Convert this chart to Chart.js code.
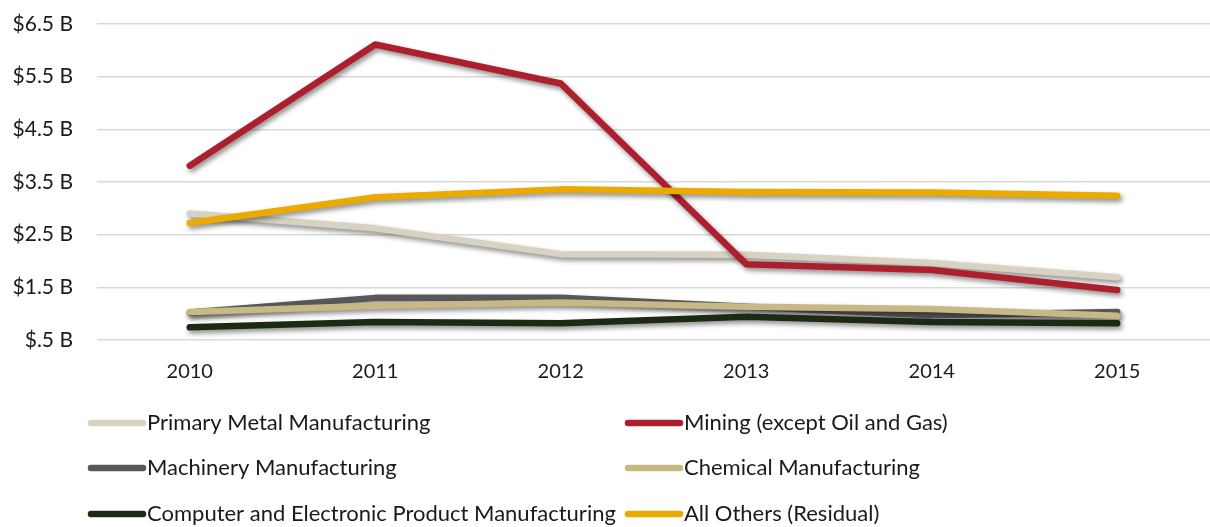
<!DOCTYPE html>
<html><head><meta charset="utf-8">
<script src="https://cdn.jsdelivr.net/npm/chart.js@4"></script>
<style>html,body{margin:0;padding:0;background:#fff;}#wrap{width:1210px;height:527px;}</style>
</head><body><div id="wrap"><canvas id="c" width="1210" height="527"></canvas></div>
<script>
const years = ['2010','2011','2012','2013','2014','2015'];
const seriesNames = ['Primary Metal Manufacturing','Mining (except Oil and Gas)','Machinery Manufacturing','Chemical Manufacturing','Computer and Electronic Product Manufacturing','All Others (Residual)'];
const primaryMetal = [2.90, 2.62, 2.13, 2.12, 1.96, 1.69];
const mining = [3.81, 6.11, 5.37, 1.94, 1.83, 1.45];
const machinery = [1.02, 1.30, 1.30, 1.13, 0.97, 1.03];
const chemical = [1.03, 1.15, 1.21, 1.13, 1.09, 0.96];
const computer = [0.74, 0.84, 0.82, 0.94, 0.84, 0.82];
const allOthers = [2.72, 3.21, 3.36, 3.31, 3.30, 3.24];
const yTicks = [0.5, 1.5, 2.5, 3.5, 4.5, 5.5, 6.5];
const colors = ['#D8D2C2','#AE1F2E','#58585A','#C8B884','#1C2A14','#EBAA00'];
const values = [primaryMetal, mining, machinery, chemical, computer, allOthers];
const FONT = 'Lato, "Open Sans", sans-serif';

const shadowPlugin = {
  id: 'shadow',
  beforeDatasetDraw(chart) {
    const ctx = chart.ctx; ctx.save();
    ctx.shadowColor = 'rgba(0,0,0,0.45)'; ctx.shadowBlur = 5; ctx.shadowOffsetX = 2; ctx.shadowOffsetY = 3;
  },
  afterDatasetDraw(chart) { chart.ctx.restore(); }
};
const legendPlugin = {
  id: 'customLegend',
  afterDraw(chart) {
    const ctx = chart.ctx; ctx.save();
    const cols = [88, 625], rows = [423, 468, 514];
    chart.data.datasets.forEach((ds, i) => {
      const x = cols[i % 2], y = rows[Math.floor(i / 2)];
      ctx.strokeStyle = ds.borderColor; ctx.lineWidth = 6.5; ctx.lineCap = 'round';
      ctx.beginPath(); ctx.moveTo(x + 3, y); ctx.lineTo(x + 55, y); ctx.stroke();
      ctx.fillStyle = '#1a1a1a'; ctx.font = '22px ' + FONT; ctx.textBaseline = 'middle'; ctx.textAlign = 'left';
      ctx.fillText(ds.label, x + 59, y);
    });
    ctx.restore();
  }
};

new Chart(document.getElementById('c'), {
  type: 'line',
  data: {
    labels: years,
    datasets: values.map((v, i) => ({
      label: seriesNames[i], data: v, borderColor: colors[i], backgroundColor: colors[i],
      borderWidth: 6.5, borderCapStyle: 'round', borderJoinStyle: 'round', pointRadius: 0, tension: 0,
      order: 5 - i
    }))
  },
  options: {
    responsive: false, animation: false, devicePixelRatio: 1,
    layout: { padding: { top: 24, right: 0, left: 0, bottom: 137 } },
    plugins: { legend: { display: false }, tooltip: { enabled: false } },
    scales: {
      x: {
        offset: true,
        grid: { display: false, drawTicks: false },
        border: { display: false },
        ticks: { color: '#1a1a1a', font: { family: FONT, size: 20 }, padding: 20 },
        afterFit(s) { s.height = 50; }
      },
      y: {
        min: 0.5, max: 6.5,
        afterBuildTicks(s) { s.ticks = yTicks.map(v => ({ value: v })); },
        grid: { color: '#D9D9D9', lineWidth: 1.5, drawTicks: false },
        border: { display: false },
        ticks: {
          color: '#1a1a1a', font: { family: FONT, size: 21 }, padding: 24,
          callback(v) { return '$' + (v < 1 ? String(v).replace(/^0/, '') : v) + ' B'; }
        },
        afterFit(s) { s.width = 97; s.paddingTop = 0; s.paddingBottom = 0; }
      }
    }
  },
  plugins: [shadowPlugin, legendPlugin]
});
</script></body></html>
